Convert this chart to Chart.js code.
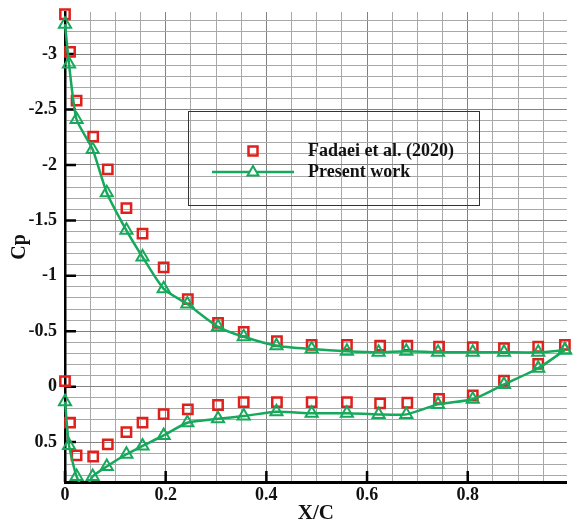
<!DOCTYPE html>
<html><head><meta charset="utf-8">
<script src="https://cdn.jsdelivr.net/npm/chart.js@4/dist/chart.umd.min.js"></script>
<style>html,body{margin:0;padding:0;background:#fff}</style>
</head><body>
<canvas id="c" width="576" height="526"></canvas>
<script>
// ---- data ----
const fadaeiUpperX = [0, 0.01, 0.023, 0.056, 0.085, 0.122, 0.154, 0.196, 0.244, 0.304, 0.355, 0.421, 0.49, 0.56, 0.626, 0.68, 0.743, 0.81, 0.872, 0.94, 0.993];
const fadaeiUpperCp = [-3.36, -3.02, -2.58, -2.255, -1.96, -1.61, -1.38, -1.076, -0.79, -0.576, -0.494, -0.41, -0.377, -0.377, -0.37, -0.37, -0.36, -0.356, -0.347, -0.36, -0.377];
const fadaeiLowerX = [0, 0.01, 0.023, 0.056, 0.085, 0.122, 0.154, 0.196, 0.244, 0.304, 0.355, 0.421, 0.49, 0.56, 0.626, 0.68, 0.743, 0.81, 0.872, 0.94];
const fadaeiLowerCp = [-0.05, 0.325, 0.62, 0.63, 0.52, 0.41, 0.325, 0.247, 0.205, 0.165, 0.14, 0.14, 0.14, 0.14, 0.15, 0.145, 0.11, 0.08, -0.055, -0.205];

const presentUpperX = [0, 0.008, 0.023, 0.055, 0.083, 0.122, 0.154, 0.196, 0.243, 0.304, 0.355, 0.42, 0.49, 0.56, 0.623, 0.678, 0.741, 0.81, 0.872, 0.94, 0.993];
const presentUpperCp = [-3.27, -2.91, -2.41, -2.14, -1.75, -1.41, -1.17, -0.883, -0.745, -0.54, -0.45, -0.37, -0.34, -0.32, -0.31, -0.32, -0.31, -0.31, -0.31, -0.31, -0.33];
const presentLowerX = [0, 0.008, 0.023, 0.039, 0.055, 0.083, 0.122, 0.154, 0.196, 0.243, 0.304, 0.355, 0.42, 0.49, 0.56, 0.623, 0.678, 0.741, 0.81, 0.872, 0.94, 0.993];
const presentLowerCp = [0.135, 0.53, 0.81, 0.93, 0.81, 0.72, 0.61, 0.535, 0.44, 0.325, 0.29, 0.265, 0.226, 0.24, 0.24, 0.25, 0.25, 0.16, 0.114, -0.02, -0.166, -0.33];
const presentLowerUnmarked = [0.039]; // line-only sample (no symbol)

const xTickValues = [0, 0.2, 0.4, 0.6, 0.8];
const xTickLabels = ['0', '0.2', '0.4', '0.6', '0.8'];
const yTickValues = [-3, -2.5, -2, -1.5, -1, -0.5, 0, 0.5];
const yTickLabels = ['-3', '-2.5', '-2', '-1.5', '-1', '-0.5', '0', '0.5'];

const seriesNames = ['Fadaei et al. (2020)', 'Present work'];
const axisTitles = { x: 'X/C', y: 'Cp' };

// ---- styles ----
const RED = '#e0201c';
const GREEN = '#17a95b';
const FONT = "'Liberation Serif', 'Times New Roman', serif";

const pts = (xs, ys) => xs.map((x, i) => ({ x: x, y: ys[i] }));
const near = (a, b) => Math.abs(a - b) < 1e-6;
const isMajorX = v => xTickValues.some(t => near(t, v));
const isMajorY = v => yTickValues.some(t => near(t, v));

const clipOpt = { left: 12, top: 12, right: 12, bottom: 0 };

const inwardTicks = {
  id: 'inwardTicks',
  beforeDatasetsDraw(chart) {
    const { ctx, chartArea: a, scales: { x, y } } = chart;
    ctx.save();
    ctx.strokeStyle = '#000';
    ctx.lineWidth = 2.5;
    ctx.beginPath();
    xTickValues.forEach(v => {
      const px = x.getPixelForValue(v);
      ctx.moveTo(px, a.bottom); ctx.lineTo(px, a.bottom - 11);
    });
    yTickValues.forEach(v => {
      const py = y.getPixelForValue(v);
      ctx.moveTo(a.left, py); ctx.lineTo(a.left + 11, py);
    });
    ctx.stroke();
    ctx.restore();
  }
};

const boxLegend = {
  id: 'boxLegend',
  afterDatasetsDraw(chart) {
    const { ctx } = chart;
    const bx = 188.5, by = 111.5, bw = 291, bh = 94;
    ctx.save();
    ctx.strokeStyle = '#333';
    ctx.lineWidth = 1;
    ctx.strokeRect(bx, by, bw, bh);
    const sx = 253, y1 = 151, y2 = 172;
    ctx.strokeStyle = RED; ctx.lineWidth = 2.5;
    ctx.strokeRect(sx - 4.5, y1 - 4.5, 9, 9);
    ctx.strokeStyle = GREEN; ctx.lineWidth = 2.5;
    ctx.beginPath(); ctx.moveTo(212, y2); ctx.lineTo(294, y2); ctx.stroke();
    ctx.fillStyle = '#fff';
    ctx.beginPath();
    ctx.moveTo(sx, y2 - 6); ctx.lineTo(sx + 5.5, y2 + 3.5); ctx.lineTo(sx - 5.5, y2 + 3.5); ctx.closePath();
    ctx.fill(); ctx.lineWidth = 2; ctx.stroke();
    ctx.fillStyle = '#111';
    ctx.font = 'bold 18px ' + FONT;
    ctx.textBaseline = 'middle';
    ctx.textAlign = 'left';
    ctx.fillText(seriesNames[0], 308, y1);
    ctx.fillText(seriesNames[1], 308, y2);
    ctx.restore();
  }
};

const presentCommon = {
  borderColor: GREEN, borderWidth: 2.5,
  pointStyle: 'triangle', pointBorderColor: GREEN, pointBackgroundColor: 'rgba(255,255,255,0)',
  pointBorderWidth: 2, pointHoverRadius: 7,
  tension: 0.2, showLine: true, clip: clipOpt
};
const fadaeiCommon = {
  showLine: false, pointStyle: 'rect', pointRadius: 6.6, pointBorderColor: RED,
  pointBackgroundColor: 'rgba(255,255,255,0)', pointBorderWidth: 2.5, borderColor: RED, clip: clipOpt
};

new Chart(document.getElementById('c'), {
  type: 'scatter',
  data: {
    datasets: [
      Object.assign({ label: seriesNames[1], data: pts(presentUpperX, presentUpperCp), pointRadius: 7 }, presentCommon),
      Object.assign({ label: seriesNames[1], data: pts(presentLowerX, presentLowerCp),
        pointRadius: c => (c.raw && presentLowerUnmarked.some(v => near(v, c.raw.x))) ? 0 : 7 }, presentCommon),
      Object.assign({ label: seriesNames[0], data: pts(fadaeiUpperX, fadaeiUpperCp) }, fadaeiCommon),
      Object.assign({ label: seriesNames[0], data: pts(fadaeiLowerX, fadaeiLowerCp) }, fadaeiCommon)
    ]
  },
  options: {
    responsive: false,
    animation: false,
    devicePixelRatio: 1,
    layout: { padding: { left: 0, right: 0, top: 12, bottom: 0 } },
    plugins: { legend: { display: false }, tooltip: { enabled: false } },
    scales: {
      x: {
        type: 'linear', min: 0, max: 0.997,
        afterBuildTicks: s => { const t = []; for (let i = 0; i <= 19; i++) t.push({ value: +(i * 0.05).toFixed(2) }); s.ticks = t; },
        afterFit: s => { s.height = 44; s.paddingLeft = 0; s.paddingRight = 0; },
        ticks: {
          autoSkip: false, maxRotation: 0, padding: 3, color: '#111',
          font: { family: FONT, size: 18, weight: 'bold' },
          callback: v => { const i = xTickValues.findIndex(t => near(t, v)); return i >= 0 ? xTickLabels[i] : ''; }
        },
        grid: {
          drawTicks: false,
          color: c => isMajorX(c.tick.value) ? '#828282' : '#a8a8a8',
          lineWidth: 1,
          borderDash: c => isMajorX(c.tick.value) ? [] : [1, 2],
          tickBorderDash: c => isMajorX(c.tick.value) ? [] : [1, 2]
        },
        border: { display: true, color: '#000', width: 3 },
        title: { display: true, text: axisTitles.x, color: '#111', padding: { top: 0, bottom: 0 },
          font: { family: FONT, size: 21, weight: 'bold' } }
      },
      y: {
        type: 'linear', reverse: true, min: -3.38, max: 0.86,
        afterBuildTicks: s => { const t = []; for (let i = -33; i <= 8; i++) t.push({ value: +(i * 0.1).toFixed(1) }); s.ticks = t; },
        afterFit: s => { s.width = 65; s.paddingTop = 0; s.paddingBottom = 0; },
        ticks: {
          autoSkip: false, padding: 8, color: '#111',
          font: { family: FONT, size: 18, weight: 'bold' },
          callback: v => { const i = yTickValues.findIndex(t => near(t, v)); return i >= 0 ? yTickLabels[i] : ''; }
        },
        grid: {
          drawTicks: false,
          color: c => isMajorY(c.tick.value) ? '#828282' : '#a8a8a8',
          lineWidth: 1,
          borderDash: c => isMajorY(c.tick.value) ? [] : [1, 2],
          tickBorderDash: c => isMajorY(c.tick.value) ? [] : [1, 2]
        },
        border: { display: true, color: '#000', width: 2.5 },
        title: { display: true, text: axisTitles.y, color: '#111', padding: { top: 8, bottom: 0 },
          font: { family: FONT, size: 20, weight: 'bold' } }
      }
    }
  },
  plugins: [inwardTicks, boxLegend]
});
</script>
</body></html>
